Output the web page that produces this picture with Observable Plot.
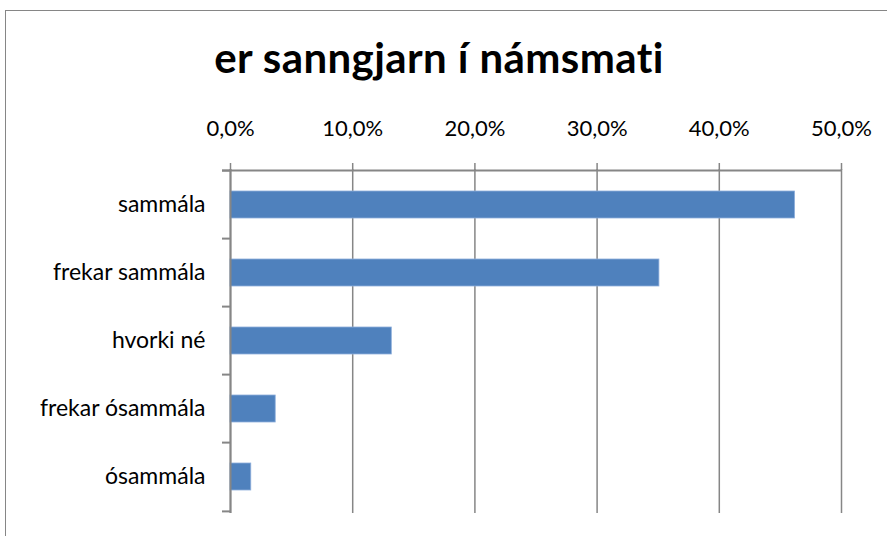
<!DOCTYPE html>
<html>
<head>
<meta charset="utf-8">
<script src="https://cdn.jsdelivr.net/npm/d3@7"></script>
<script src="https://cdn.jsdelivr.net/npm/@observablehq/plot@0.6"></script>
<style>
  html, body { margin: 0; padding: 0; background: #fff; }
  #wrap { position: relative; width: 887px; height: 536px; overflow: hidden; }
  #border { position: absolute; left: 5px; top: 10px; width: 1000px; height: 1000px; border: 1px solid #868686; box-sizing: border-box; }
  #title { position: absolute; left: 0; width: 878px; top: 36px; line-height: 42px; text-align: center; font-family: Lato, sans-serif; font-weight: bold; font-size: 42px; letter-spacing: 0.4px; color: #000; }
  #chart { position: absolute; left: 0; top: 0; }
</style>
</head>
<body>
<div id="wrap">
  <div id="border"></div>
  <div id="title">er sanngjarn í námsmati</div>
  <div id="chart"></div>
</div>
<script>
const categories = ["sammála", "frekar sammála", "hvorki né", "frekar ósammála", "ósammála"];
const values = [0.462, 0.351, 0.132, 0.037, 0.017];
const xTicks = [0, 0.1, 0.2, 0.3, 0.4, 0.5];

const data = categories.map((c, i) => ({category: c, value: values[i]}));
const fmt = d => (d * 100).toFixed(1).replace(".", ",") + "%";
const axisColor = "#868686";
const plotTop = 169, plotBottom = 513;
const step = (plotBottom - plotTop) / categories.length;

const chart = Plot.plot({
  width: 887,
  height: 536,
  marginTop: plotTop,
  marginBottom: 536 - plotBottom,
  marginLeft: 230,
  marginRight: 46,
  style: {fontFamily: "Lato, sans-serif", background: "transparent"},
  x: {domain: [0, 0.5], axis: null, label: null},
  y: {domain: categories, paddingInner: 0.6, paddingOuter: 0.3, axis: null, label: null},
  marks: [
    Plot.gridX(xTicks, {stroke: axisColor, strokeOpacity: 1, strokeWidth: 1.5}),
    Plot.axisX(xTicks, {anchor: "top", label: null, tickFormat: fmt, tickSize: 7, tickPadding: 27, stroke: axisColor, strokeWidth: 1.5, fontSize: 22, fill: "#000"}),
    Plot.barX(data, {x: "value", y: "category", fill: "#4F81BD", stroke: "#8eaedb", strokeWidth: 0.8}),
    Plot.ruleX([0], {stroke: axisColor, strokeWidth: 2}),
    Plot.ruleY(data, {y: "category", dy: -step / 2, x1: 0, x2: 0, insetLeft: -8, stroke: axisColor, strokeWidth: 2}),
    Plot.ruleY(data.slice(-1), {y: "category", dy: step / 2, x1: 0, x2: 0, insetLeft: -8, stroke: axisColor, strokeWidth: 2}),
    Plot.ruleY(data.slice(0, 1), {y: "category", dy: -step / 2, x1: 0, x2: 0.5, insetLeft: -8, stroke: axisColor, strokeWidth: 2}),
    Plot.axisY({label: null, tickSize: 0, tickPadding: 25, fontSize: 23, fill: "#000"})
  ]
});
document.getElementById("chart").appendChild(chart);
</script>
</body>
</html>
